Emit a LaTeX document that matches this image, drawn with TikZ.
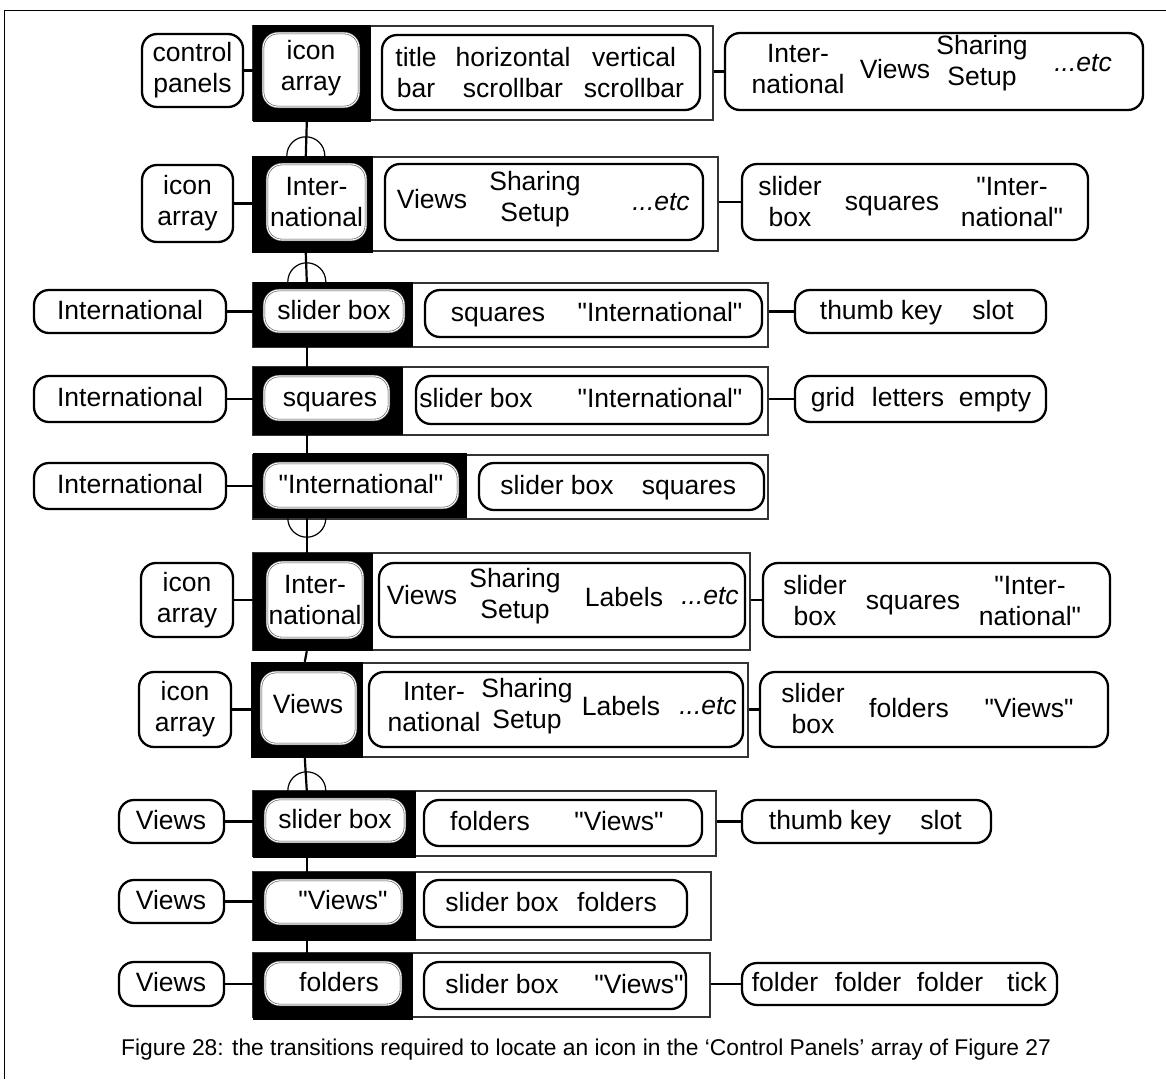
\documentclass[tikz,border=0pt]{standalone}
\usepackage{fontspec}
\setmainfont{Liberation Sans}[Ligatures=TeXOff]
\usetikzlibrary{fit}
\tikzset{
  chunk/.style={draw, line width=2.3pt, rounded corners=15pt, inner sep=0pt},
  focus/.style={draw=black!70, line width=0.6pt, double=white, double distance=1.1pt,
    fill=white, rounded corners=15pt, inner sep=0pt},
  holder/.style={fill=black, inner sep=0pt},
  frame/.style={draw=black!80, line width=1.2pt, inner sep=0pt},
  word/.style={inner sep=0pt, align=center},
  one/.style={inner sep=0pt, text height=19pt, text depth=5pt},
  link/.style={line width=2.2pt},
  hoop/.style={line width=1.2pt}
}
\begin{document}
\begin{tikzpicture}[x=1pt, y=-1pt, font=\fontsize{26.5}{31}\selectfont]
    \useasboundingbox (0,0) rectangle (1166,1079);
    \draw[line width=1pt] (1166,10) -- (4,10) -- (4,1079);

    % row 1
    \node[frame, fit={(253,26) (713,120)}] (w1) {};
    \node[holder, fit={(253,25) (371,122)}] (b1) {};
    \node[focus, fit={(263,33) (359,107)}] (f1) {};
    \node[word] (f1t) at (311,68) {icon\\array};
    \node[chunk, fit={(142,34) (243,107)}] (l1) {};
    \node[word] (l1t) at (l1.center) {control\\panels};
    \node[chunk, fit={(382,35) (700,110)}] (m1) {};
    \node[word] (m1a) at (416,73) {title\\bar};
    \node[word] (m1b) at (513,73) {horizontal\\scrollbar};
    \node[word] (m1c) at (634,73) {vertical\\scrollbar};
    \node[chunk, fit={(725,33) (1143,110)}] (r1) {};
    \node[word] (r1a) at (798,69) {Inter-\\national};
    \node[one] (r1b) at (895,71) {Views};
    \node[word] (r1c) at (982,63) {Sharing\\Setup};
    \node[one] (r1d) at (1083,64) {\textit{...etc}};
    \draw[link] (l1.east) -- (l1.east -| b1.west);
    \draw[link] (w1.east |- r1.west) -- (r1.west);

    % row 2
    \node[frame, fit={(253,157) (718,251)}] (w2) {};
    \node[holder, fit={(252,156) (373,253)}] (b2) {};
    \node[focus, fit={(267,164) (366,240)}] (f2) {};
    \node[word] (f2t) at (f2.center) {Inter-\\national};
    \node[chunk, fit={(142,165) (233,242)}] (l2) {};
    \node[word] (l2t) at (l2.center) {icon\\array};
    \node[chunk, fit={(385,164) (703,240)}] (m2) {};
    \node[one] (m2a) at (432,201) {Views};
    \node[word] (m2b) at (535,199) {Sharing\\Setup};
    \node[one] (m2c) at (661,203) {\textit{...etc}};
    \node[chunk, fit={(742,164) (1088,240)}] (r2) {};
    \node[word] (r2a) at (790,202) {slider\\box};
    \node[one] (r2b) at (892,203) {squares};
    \node[word] (r2c) at (1012,202) {"Inter-\\national"};
    \draw[link] (l2.east) -- (l2.east -| b2.west);
    \draw[link] (w2.east |- r2.west) -- (r2.west);

    % row 3
    \node[frame, fit={(253,283) (768,347)}] (w3) {};
    \node[holder, fit={(253,282) (413,347)}] (b3) {};
    \node[focus, fit={(264,290) (404,332)}] (f3) {};
    \node[one] (f3t) at (334,312) {slider box};
    \node[chunk, fit={(34,290) (226,333)}] (l3) {};
    \node[one] (l3t) at (130,312) {International};
    \node[chunk, fit={(425,290) (762,337)}] (m3) {};
    \node[one] (m3a) at (498,314) {squares};
    \node[one] (m3b) at (660,314) {"International"};
    \node[chunk, fit={(795,290) (1046,333)}] (r3) {};
    \node[one] (r3a) at (881,312) {thumb key};
    \node[one] (r3b) at (993,312) {slot};
    \draw[link] (l3.east) -- (l3.east -| b3.west);
    \draw[link] (w3.east |- r3.west) -- (r3.west);

    % row 4
    \node[frame, fit={(253,367) (768,435)}] (w4) {};
    \node[holder, fit={(253,367) (403,435)}] (b4) {};
    \node[focus, fit={(264,376) (389,420)}] (f4) {};
    \node[one] (f4t) at (330,399) {squares};
    \node[chunk, fit={(34,376) (226,422)}] (l4) {};
    \node[one] (l4t) at (130,399) {International};
    \node[chunk, fit={(416,376) (762,424)}] (m4) {};
    \node[one] (m4a) at (476,400) {slider box};
    \node[one] (m4b) at (660,400) {"International"};
    \node[chunk, fit={(795,376) (1046,422)}] (r4) {};
    \node[one] (r4a) at (833,399) {grid};
    \node[one] (r4b) at (908,399) {letters};
    \node[one] (r4c) at (995,399) {empty};
    \draw[link] (l4.east) -- (l4.east -| b4.west);
    \draw[link] (w4.east |- r4.west) -- (r4.west);

    % row 5
    \node[frame, fit={(253,455) (768,519)}] (w5) {};
    \node[holder, fit={(253,453) (467,518)}] (b5) {};
    \node[focus, fit={(264,463) (458,508)}] (f5) {};
    \node[one] (f5t) at (361,486) {"International"};
    \node[chunk, fit={(34,463) (226,509)}] (l5) {};
    \node[one] (l5t) at (130,486) {International};
    \node[chunk, fit={(479,463) (764,510)}] (m5) {};
    \node[one] (m5a) at (557,487) {slider box};
    \node[one] (m5b) at (689,487) {squares};
    \draw[link] (l5.east) -- (l5.east -| b5.west);

    % row 6
    \node[frame, fit={(253,553) (750,650)}] (w6) {};
    \node[holder, fit={(253,553) (373,651)}] (b6) {};
    \node[focus, fit={(267,562) (363,638)}] (f6) {};
    \node[word] (f6t) at (f6.center) {Inter-\\national};
    \node[chunk, fit={(141,563) (233,637)}] (l6) {};
    \node[word] (l6t) at (l6.center) {icon\\array};
    \node[chunk, fit={(379,563) (745,637)}] (m6) {};
    \node[one] (m6a) at (422,597) {Views};
    \node[word] (m6b) at (515,596) {Sharing\\Setup};
    \node[one] (m6c) at (624,599) {Labels};
    \node[one] (m6d) at (710,597) {\textit{...etc}};
    \node[chunk, fit={(763,563) (1110,637)}] (r6) {};
    \node[word] (r6a) at (815,601) {slider\\box};
    \node[one] (r6b) at (913,602) {squares};
    \node[word] (r6c) at (1030,601) {"Inter-\\national"};
    \draw[link] (l6.east) -- (l6.east -| b6.west);
    \draw[link] (w6.east |- r6.west) -- (r6.west);

    % row 7
    \node[frame, fit={(253,663) (748,757)}] (w7) {};
    \node[holder, fit={(251,662) (363,758)}] (b7) {};
    \node[focus, fit={(261,672) (356,744)}] (f7) {};
    \node[one] (f7t) at (308,706) {Views};
    \node[chunk, fit={(139,672) (231,747)}] (l7) {};
    \node[word] (l7t) at (l7.center) {icon\\array};
    \node[chunk, fit={(369,672) (743,747)}] (m7) {};
    \node[word] (m7a) at (434,707) {Inter-\\national};
    \node[word] (m7b) at (527,706) {Sharing\\Setup};
    \node[one] (m7c) at (621,708) {Labels};
    \node[one] (m7d) at (708,707) {\textit{...etc}};
    \node[chunk, fit={(760,672) (1108,747)}] (r7) {};
    \node[word] (r7a) at (813,709) {slider\\box};
    \node[one] (r7b) at (909,710) {folders};
    \node[one] (r7c) at (1029,710) {"Views"};
    \draw[link] (l7.east) -- (l7.east -| b7.west);
    \draw[link] (w7.east |- r7.west) -- (r7.west);

    % row 8
    \node[frame, fit={(253,791) (716,856)}] (w8) {};
    \node[holder, fit={(253,791) (416,858)}] (b8) {};
    \node[focus, fit={(265,799) (405,842)}] (f8) {};
    \node[one] (f8t) at (335,821) {slider box};
    \node[chunk, fit={(119,800) (224,843)}] (l8) {};
    \node[one] (l8t) at (171,822) {Views};
    \node[chunk, fit={(424,800) (702,846)}] (m8) {};
    \node[one] (m8a) at (490,823) {folders};
    \node[one] (m8b) at (619,823) {"Views"};
    \node[chunk, fit={(742,800) (991,843)}] (r8) {};
    \node[one] (r8a) at (830,822) {thumb key};
    \node[one] (r8b) at (941,822) {slot};
    \draw[link] (l8.east) -- (l8.east -| b8.west);
    \draw[link] (w8.east |- r8.west) -- (r8.west);

    % row 9
    \node[frame, fit={(253,872) (711,940)}] (w9) {};
    \node[holder, fit={(253,872) (416,941)}] (b9) {};
    \node[focus, fit={(265,880) (402,924)}] (f9) {};
    \node[one] (f9t) at (343,902) {"Views"};
    \node[chunk, fit={(119,880) (224,923)}] (l9) {};
    \node[one] (l9t) at (171,902) {Views};
    \node[chunk, fit={(424,880) (687,927)}] (m9) {};
    \node[one] (m9a) at (502,904) {slider box};
    \node[one] (m9b) at (617,904) {folders};
    \draw[link] (l9.east) -- (l9.east -| b9.west);

    % row 10
    \node[frame, fit={(253,953) (710,1017)}] (w10) {};
    \node[holder, fit={(253,953) (413,1020)}] (b10) {};
    \node[focus, fit={(265,962) (401,1005)}] (f10) {};
    \node[one] (f10t) at (339,984) {folders};
    \node[chunk, fit={(119,962) (224,1006)}] (l10) {};
    \node[one] (l10t) at (171,984) {Views};
    \node[chunk, fit={(424,962) (686,1009)}] (m10) {};
    \node[one] (m10a) at (502,986) {slider box};
    \node[one] (m10b) at (639,986) {"Views"};
    \node[chunk, fit={(742,963) (1057,1005)}] (r10) {};
    \node[one] (r10a) at (785,984) {folder};
    \node[one] (r10b) at (868,984) {folder};
    \node[one] (r10c) at (950,984) {folder};
    \node[one] (r10d) at (1027,984) {tick};
    \draw[link] (l10.east) -- (l10.east -| b10.west);
    \draw[link] (w10.east |- r10.west) -- (r10.west);

    % spine between the black boxes
    \foreach \a/\b in {b1/b2,b2/b3,b3/b4,b4/b5,b5/b6,b6/b7,b7/b8,b8/b9,b9/b10}
      \draw[link] ([xshift=54pt]\a.south west) -- ([xshift=54pt]\b.north west);
    \foreach \b in {b2,b3,b8}
      \draw[hoop] ([xshift=73pt]\b.north west) arc[start angle=0, end angle=180, radius=19pt];
    \draw[hoop] ([xshift=73pt]b5.south west) arc[start angle=0, end angle=-180, radius=19pt];

    \node (caption) at (586,1050) {\fontsize{22.8}{26}\selectfont Figure 28: the transitions required to locate an icon in the ‘Control Panels’ array of Figure 27};
\end{tikzpicture}
\end{document}
